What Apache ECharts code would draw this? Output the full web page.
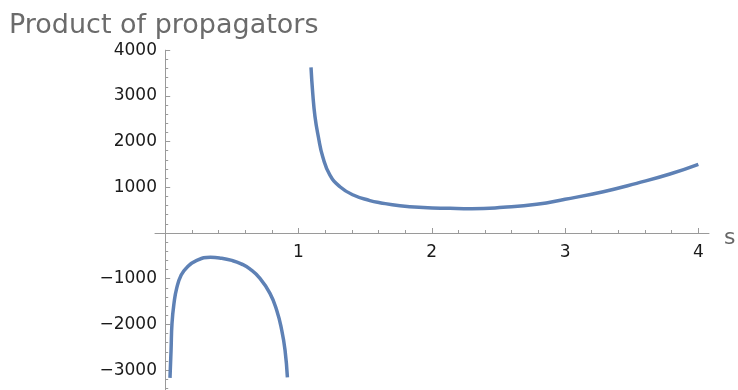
<!DOCTYPE html>
<html>
<head>
<meta charset="utf-8">
<script src="https://cdn.jsdelivr.net/npm/echarts@6/dist/echarts.min.js"></script>
<style>
html,body{margin:0;padding:0;background:#fff;}
#chart{width:738px;height:390px;}
</style>
</head>
<body>
<div id="chart"></div>
<script>
// ---- data ----
const titleText = 'Product of propagators';
const xName = 's';
const xTickLabels = [1, 2, 3, 4];
const yTickLabels = [-3000, -2000, -1000, 1000, 2000, 3000, 4000];

// branch for 0 < s < 1
const lowerS = [0.036, 0.044, 0.051, 0.066, 0.086, 0.12, 0.161, 0.23, 0.34, 0.42, 0.50, 0.57, 0.635, 0.711, 0.786, 0.836, 0.874, 0.899, 0.917];
const lowerV = [-3170, -2560, -1980, -1540, -1210, -920, -760, -610, -530, -550, -600, -675, -785, -991, -1320, -1685, -2122, -2560, -3160];

// branch for s > 1
const upperS = [1.094, 1.107, 1.124, 1.149, 1.182, 1.236, 1.311, 1.411, 1.536, 1.611, 1.761, 1.936, 2.137, 2.3, 2.536, 2.787, 3.0, 3.287, 3.537, 3.787, 4.0];
const upperV = [3626, 3057, 2545, 2107, 1670, 1269, 1013, 832, 710, 663, 597, 558, 540, 532, 562, 628, 737, 904, 1087, 1291, 1503];

// ---- axis ranges / ticks ----
const xMin = -0.0765, xMax = 4.08;
const yMin = -3435, yMax = 4000;
const xMinorTicks = [];
for (let i = 1; i <= 20; i++) { if (i % 5 !== 0) xMinorTicks.push(+(i * 0.2).toFixed(1)); }
const yMinorTicks = [];
for (let v = -3400; v <= 4000; v += 200) { if (v % 1000 !== 0) yMinorTicks.push(v); }

const axisColor = '#9a9a9a';
const labelFont = 'DejaVu Sans';
const curveColor = '#5E81B5';

function fmt(v) { return v < 0 ? '\u2212' + Math.abs(v) : String(v); }

const chart = echarts.init(document.getElementById('chart'), null, { renderer: 'canvas' });
chart.setOption({
  animation: false,
  backgroundColor: '#ffffff',
  title: {
    text: titleText,
    left: 9,
    top: 12.5,
    padding: 0,
    textStyle: { fontFamily: labelFont, fontSize: 27, fontWeight: 'normal', color: '#6b6b6b' }
  },
  grid: { left: 155, right: 29, top: 50.2, bottom: 0, containLabel: false, outerBoundsMode: 'none' },
  xAxis: [
    {
      type: 'value', min: xMin, max: xMax, position: 'bottom',
      name: xName, nameLocation: 'end', nameGap: 15,
      nameTextStyle: { fontFamily: labelFont, fontSize: 22, color: '#666', verticalAlign: 'top', lineHeight: 11 },
      axisLine: { show: true, onZero: true, onZeroAxisIndex: 0, lineStyle: { color: axisColor, width: 1 } },
      axisTick: { show: true, inside: true, length: 5, customValues: xTickLabels, lineStyle: { color: axisColor } },
      axisLabel: { show: true, customValues: xTickLabels, margin: -146, fontFamily: labelFont, fontSize: 17, color: '#1a1a1a', formatter: fmt },
      splitLine: { show: false }
    },
    {
      type: 'value', min: xMin, max: xMax, position: 'bottom',
      axisLine: { show: false, onZero: true, onZeroAxisIndex: 0 },
      axisTick: { show: true, inside: true, length: 3, customValues: xMinorTicks, lineStyle: { color: axisColor } },
      axisLabel: { show: false },
      splitLine: { show: false }
    }
  ],
  yAxis: [
    {
      type: 'value', min: yMin, max: yMax, position: 'left',
      axisLine: { show: true, onZero: true, onZeroAxisIndex: 0, lineStyle: { color: axisColor, width: 1 } },
      axisTick: { show: true, inside: true, length: 5, customValues: yTickLabels, lineStyle: { color: axisColor } },
      axisLabel: { show: true, customValues: yTickLabels, margin: -2, padding: [3, 0, 0, 0], fontFamily: labelFont, fontSize: 17, color: '#1a1a1a', formatter: fmt },
      splitLine: { show: false }
    },
    {
      type: 'value', min: yMin, max: yMax, position: 'left',
      axisLine: { show: false, onZero: true, onZeroAxisIndex: 0 },
      axisTick: { show: true, inside: true, length: 3, customValues: yMinorTicks, lineStyle: { color: axisColor } },
      axisLabel: { show: false },
      splitLine: { show: false }
    }
  ],
  series: [
    {
      type: 'line', xAxisIndex: 0, yAxisIndex: 0,
      data: lowerS.map((s, i) => [s, lowerV[i]]),
      showSymbol: false, smooth: 0.5,
      lineStyle: { color: curveColor, width: 3.5 }, itemStyle: { color: curveColor }
    },
    {
      type: 'line', xAxisIndex: 0, yAxisIndex: 0,
      data: upperS.map((s, i) => [s, upperV[i]]),
      showSymbol: false, smooth: 0.5,
      lineStyle: { color: curveColor, width: 3.5 }, itemStyle: { color: curveColor }
    }
  ]
});
</script>
</body>
</html>
